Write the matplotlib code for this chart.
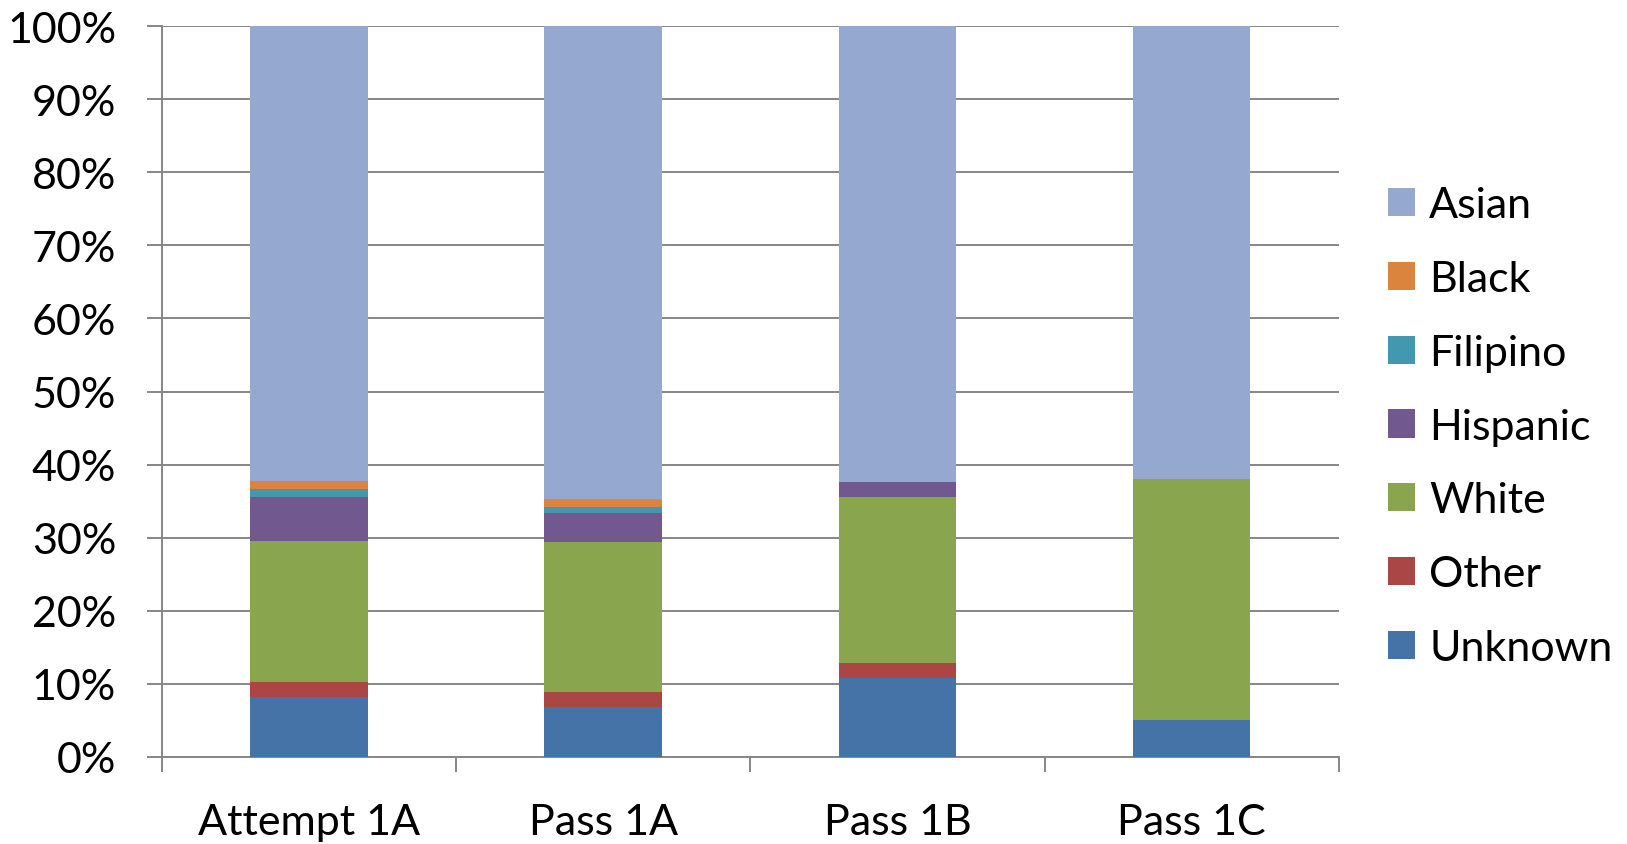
import numpy as np
import matplotlib
matplotlib.use("Agg")
import matplotlib.pyplot as plt
from matplotlib.ticker import FixedLocator, FuncFormatter

# --- Data (percent of each group, bottom to top) ---
groups = ["Attempt 1A", "Pass 1A", "Pass 1B", "Pass 1C"]
unknown = [8.2, 6.8, 10.8, 5.0]
other = [2.0, 2.0, 2.0, 0.0]
white = [19.3, 20.6, 22.8, 33.0]
hispanic = [6.1, 3.9, 2.0, 0.0]
filipino = [1.05, 0.95, 0.0, 0.0]
black = [1.05, 1.0, 0.0, 0.0]
asian = [62.3, 64.75, 62.4, 62.0]

series = [
    ("Unknown", unknown, "#4572A7"),
    ("Other", other, "#AA4643"),
    ("White", white, "#89A54E"),
    ("Hispanic", hispanic, "#71588F"),
    ("Filipino", filipino, "#4198AF"),
    ("Black", black, "#DB843D"),
    ("Asian", asian, "#95A9D0"),
]

plt.rcParams['font.family'] = ['Lato', 'DejaVu Sans']
FS = 31
GRID = "#868686"

fig = plt.figure(figsize=(16.27, 8.45), dpi=100)
ax = fig.add_axes([0.0996, 0.1033, 0.7232, 0.8644])

x = np.arange(len(groups))
bottom = np.zeros(len(groups))
handles = []
for name, vals, color in series:
    vals = np.array(vals, dtype=float)
    b = ax.bar(x, vals, 0.40, bottom=bottom, color=color, label=name,
               zorder=3, linewidth=0)
    handles.append(b)
    bottom += vals

ax.set_xlim(-0.5, len(groups) - 0.5)
ax.set_ylim(0, 100)

# y axis: gridlines every 10%
ax.yaxis.set_major_locator(FixedLocator(np.arange(0, 101, 10)))
ax.yaxis.set_major_formatter(FuncFormatter(lambda v, p: f"{int(round(v))}%"))
ax.grid(axis='y', color=GRID, linewidth=1.4, zorder=0)
ax.set_axisbelow(True)

# x axis: category labels centred, tick marks on boundaries
ax.set_xticks(x)
ax.set_xticklabels(groups)
ax.set_xticks(np.arange(-0.5, len(groups), 1.0), minor=True)
ax.tick_params(axis='x', which='major', length=0, labelsize=FS, pad=33)
ax.tick_params(axis='x', which='minor', length=11, width=1.4, color=GRID,
               direction='out')
ax.tick_params(axis='y', which='major', length=11, width=1.4, color=GRID,
               direction='out', labelsize=FS, pad=22)

for s in ["top", "right"]:
    ax.spines[s].set_visible(False)
for s in ["left", "bottom"]:
    ax.spines[s].set_color(GRID)
    ax.spines[s].set_linewidth(1.4)

fig.legend(handles[::-1], [s[0] for s in series][::-1],
           loc='center left', bbox_to_anchor=(0.853, 0.494),
           frameon=False, fontsize=FS, handlelength=0.63, handleheight=0.63,
           handletextpad=0.33, labelspacing=0.83, borderpad=0,
           borderaxespad=0)

fig.savefig("out.png", dpi=100)
